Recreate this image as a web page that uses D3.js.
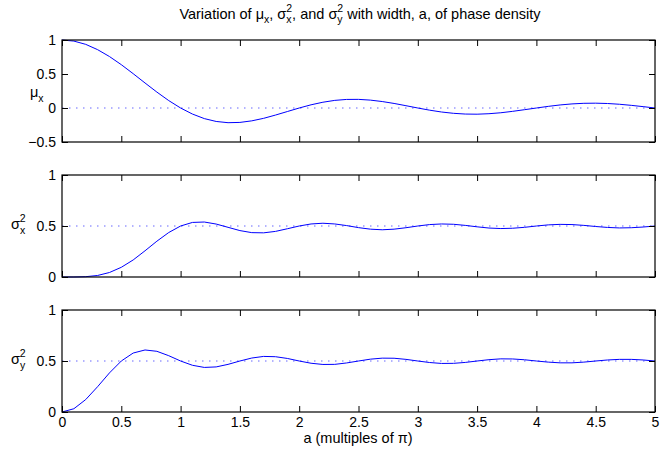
<!DOCTYPE html>
<html>
<head>
<meta charset="utf-8">
<script src="https://cdn.jsdelivr.net/npm/d3@7"></script>
<style>
  body { margin: 0; background: #fff; }
  svg { font-family: "Liberation Sans", Arial, sans-serif; }
</style>
</head>
<body>
<svg width="660" height="455"></svg>
<script>
// width a (multiples of pi)
const aValues = [0, 0.1, 0.2, 0.3, 0.4, 0.5, 0.6, 0.7, 0.8, 0.9,
  1, 1.1, 1.2, 1.3, 1.4, 1.5, 1.6, 1.7, 1.8, 1.9,
  2, 2.1, 2.2, 2.3, 2.4, 2.5, 2.6, 2.7, 2.8, 2.9,
  3, 3.1, 3.2, 3.3, 3.4, 3.5, 3.6, 3.7, 3.8, 3.9,
  4, 4.1, 4.2, 4.3, 4.4, 4.5, 4.6, 4.7, 4.8, 4.9, 5];

const muX = [1, 0.984, 0.936, 0.858, 0.757, 0.637, 0.505, 0.368, 0.234, 0.109,
  0, -0.089, -0.156, -0.198, -0.216, -0.212, -0.189, -0.152, -0.104, -0.052,
  0, 0.047, 0.085, 0.112, 0.126, 0.127, 0.116, 0.095, 0.067, 0.034,
  0, -0.032, -0.059, -0.078, -0.089, -0.091, -0.084, -0.070, -0.049, -0.025,
  0, 0.024, 0.045, 0.060, 0.069, 0.071, 0.066, 0.055, 0.039, 0.020, 0];

const sigmaX2 = [0, 0.000, 0.003, 0.015, 0.044, 0.095, 0.167, 0.257, 0.351, 0.436,
  0.5, 0.535, 0.539, 0.519, 0.487, 0.455, 0.435, 0.433, 0.447, 0.473,
  0.5, 0.520, 0.527, 0.520, 0.504, 0.484, 0.469, 0.463, 0.469, 0.483,
  0.5, 0.514, 0.520, 0.517, 0.506, 0.492, 0.480, 0.475, 0.478, 0.487,
  0.5, 0.511, 0.516, 0.514, 0.506, 0.495, 0.486, 0.481, 0.483, 0.490, 0.5];

const sigmaY2 = [0, 0.032, 0.122, 0.248, 0.383, 0.5, 0.578, 0.608, 0.595, 0.552,
  0.5, 0.458, 0.437, 0.442, 0.467, 0.5, 0.529, 0.545, 0.542, 0.525,
  0.5, 0.478, 0.466, 0.467, 0.481, 0.5, 0.518, 0.528, 0.527, 0.516,
  0.5, 0.485, 0.476, 0.477, 0.486, 0.5, 0.513, 0.521, 0.520, 0.512,
  0.5, 0.489, 0.482, 0.482, 0.489, 0.5, 0.510, 0.516, 0.516, 0.510, 0.5];

const xTicks = [0, 0.5, 1, 1.5, 2, 2.5, 3, 3.5, 4, 4.5, 5];

const panels = [
  { values: muX, domain: [-0.5, 1], yTicks: [-0.5, 0, 0.5, 1], ref: 0, label: ["μ", "x", null], top: 40 },
  { values: sigmaX2, domain: [0, 1], yTicks: [0, 0.5, 1], ref: 0.5, label: ["σ", "x", "2"], top: 175 },
  { values: sigmaY2, domain: [0, 1], yTicks: [0, 0.5, 1], ref: 0.5, label: ["σ", "y", "2"], top: 310 }
];

const left = 62, right = 655, panelH = 102, tickLen = 6;
const svg = d3.select("svg");

const x = d3.scaleLinear().domain([0, 5]).range([left, right]);
const fmt = d => d < 0 ? "\u2212" + Math.abs(d) : String(d);

// Title with stacked sub/superscripts
const title = svg.append("text")
  .attr("x", 360).attr("y", 19)
  .attr("text-anchor", "middle")
  .style("font-size", "14.5px");
title.append("tspan").text("Variation of μ");
title.append("tspan").attr("dy", 4).style("font-size", "10.5px").text("x");
title.append("tspan").attr("dy", -4).text(", σ");
title.append("tspan").attr("dy", 4).style("font-size", "10.5px").text("x");
title.append("tspan").attr("dx", -5.3).attr("dy", -11).style("font-size", "10.5px").text("2");
title.append("tspan").attr("dy", 7).text(", and σ");
title.append("tspan").attr("dy", 4).style("font-size", "10.5px").text("y");
title.append("tspan").attr("dx", -5.3).attr("dy", -11).style("font-size", "10.5px").text("2");
title.append("tspan").attr("dy", 7).text(" with width, a, of phase density");

panels.forEach((p, i) => {
  const y = d3.scaleLinear().domain(p.domain).range([p.top + panelH, p.top]);
  const g = svg.append("g");
  const isLast = i === panels.length - 1;

  // reference dotted line
  g.append("line")
    .attr("x1", x(0)).attr("x2", x(5))
    .attr("y1", y(p.ref)).attr("y2", y(p.ref))
    .attr("stroke", "#0000ff").attr("stroke-opacity", 0.6)
    .attr("stroke-dasharray", "1.5,5.5");

  // data line
  const line = d3.line()
    .x((d, j) => x(aValues[j]))
    .y(d => y(d));
  g.append("path")
    .datum(p.values)
    .attr("d", line)
    .attr("fill", "none")
    .attr("stroke", "#0000ff")
    .attr("stroke-width", 1);

  // axes with inward ticks
  const axLeft = g.append("g").attr("transform", `translate(${left},0)`)
    .call(d3.axisLeft(y).tickValues(p.yTicks).tickFormat(fmt)
      .tickSizeInner(-tickLen).tickSizeOuter(0).tickPadding(6));
  const axRight = g.append("g").attr("transform", `translate(${right},0)`)
    .call(d3.axisRight(y).tickValues(p.yTicks).tickFormat("")
      .tickSizeInner(-tickLen).tickSizeOuter(0));
  const axTop = g.append("g").attr("transform", `translate(0,${p.top})`)
    .call(d3.axisTop(x).tickValues(xTicks).tickFormat("")
      .tickSizeInner(-tickLen).tickSizeOuter(0));
  const axBottom = g.append("g").attr("transform", `translate(0,${p.top + panelH})`)
    .call(d3.axisBottom(x).tickValues(xTicks).tickFormat(isLast ? d => String(d) : "")
      .tickSizeInner(-tickLen).tickSizeOuter(0).tickPadding(5));

  [axLeft, axRight, axTop, axBottom].forEach(ax => {
    ax.select(".domain").remove();
    ax.selectAll("line").attr("stroke", "#000");
    ax.selectAll("text").attr("fill", "#000").style("font-size", "14px")
      .attr("font-family", "Liberation Sans, Arial, sans-serif");
  });

  // box
  g.append("rect")
    .attr("x", left).attr("y", p.top)
    .attr("width", right - left).attr("height", panelH)
    .attr("fill", "none").attr("stroke", "#000").attr("stroke-width", 1.2);

  // y label (horizontal, MATLAB style)
  const lab = g.append("text")
    .attr("x", i === 0 ? 30 : 11)
    .attr("y", p.top + panelH / 2 + (i === 0 ? 6 : 3))
    .style("font-size", "14.5px");
  lab.append("tspan").text(p.label[0]);
  lab.append("tspan").attr("dy", 5).style("font-size", "10.5px").text(p.label[1]);
  if (p.label[2]) {
    lab.append("tspan").attr("dx", -5.5).attr("dy", -12).style("font-size", "10.5px").text(p.label[2]);
  }
});

// x axis label
svg.append("text")
  .attr("x", 358).attr("y", 443)
  .attr("text-anchor", "middle")
  .style("font-size", "14.5px")
  .text("a (multiples of π)");
</script>
</body>
</html>
